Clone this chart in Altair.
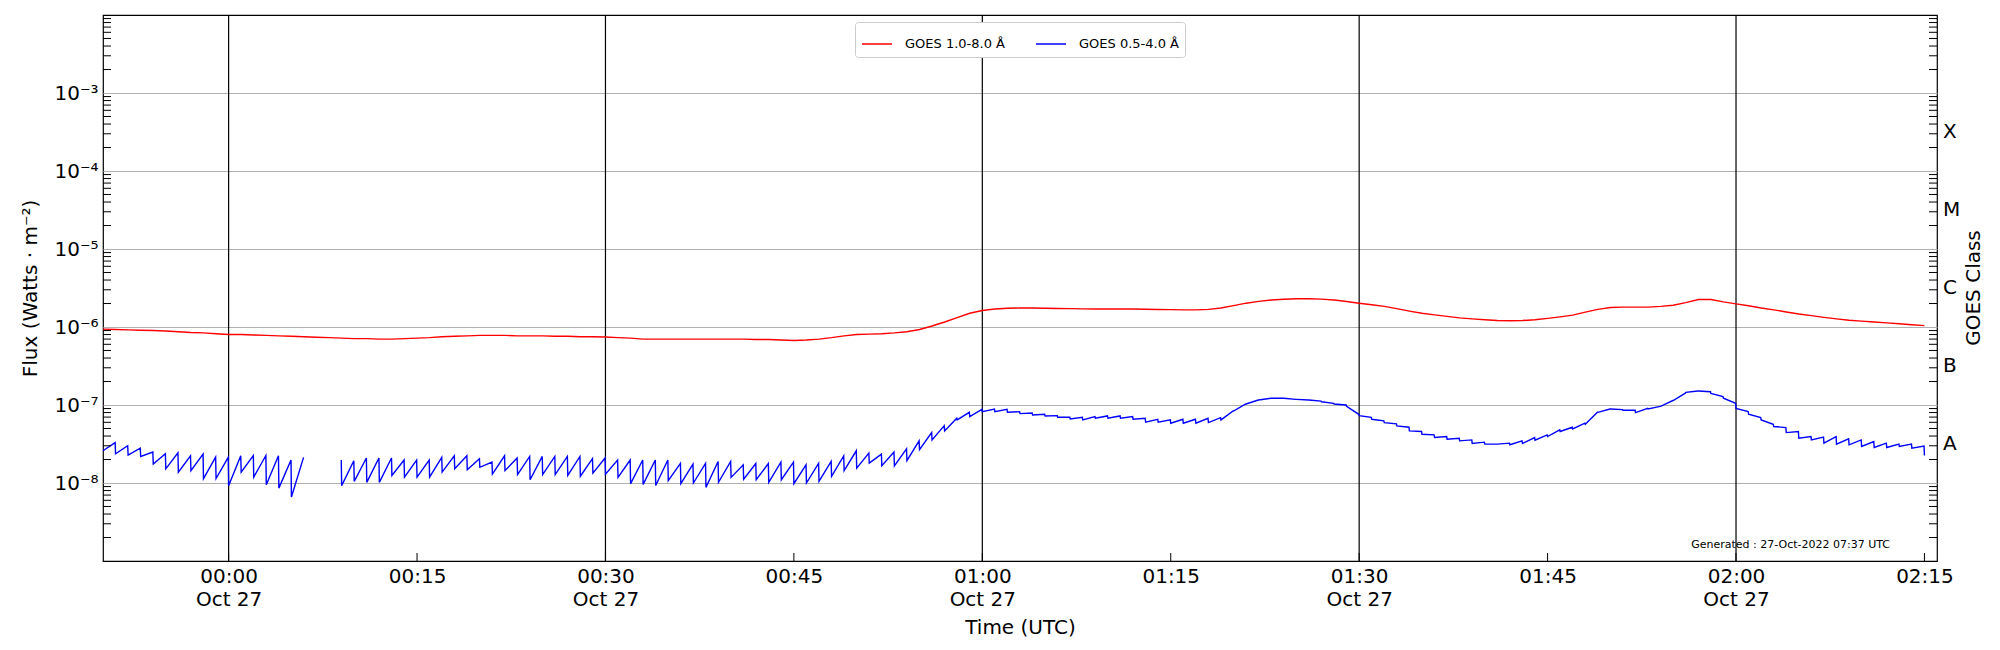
import json
import math
import altair as alt
import pandas as pd

# ---------------- data ----------------
START = "2022-10-26T23:50:00Z"          # first sample, one slot per minute
X_DOMAIN = ["2022-10-26T23:50:00Z", "2022-10-27T02:16:00Z"]

SERIES = ["GOES 1.0-8.0 Å", "GOES 0.5-4.0 Å"]
SERIES_COLORS = ["#ff0000", "#0000ff"]

# GOES 1.0-8.0 Å flux, one value per minute from 23:50 UTC (units of 1e-6 W m^-2)
red_flux_e6 = [
    0.94, 0.93, 0.92, 0.91, 0.90, 0.89, 0.87, 0.85, 0.84, 0.82,
    0.80, 0.80, 0.79, 0.78, 0.77, 0.76, 0.75, 0.74, 0.73, 0.72,
    0.71, 0.71, 0.70, 0.70, 0.71, 0.72, 0.73, 0.75, 0.76, 0.77,
    0.78, 0.78, 0.78, 0.77, 0.77, 0.77, 0.76, 0.76, 0.75, 0.75,
    0.745, 0.73, 0.72, 0.70, 0.70, 0.70, 0.70, 0.70, 0.70, 0.70,
    0.70, 0.70, 0.69, 0.69, 0.68, 0.67, 0.68, 0.70, 0.73, 0.77,
    0.80, 0.81, 0.82, 0.84, 0.87, 0.93, 1.03, 1.16, 1.32, 1.50,
    1.63, 1.70, 1.74, 1.75, 1.75, 1.74, 1.73, 1.72, 1.71, 1.70,
    1.70, 1.70, 1.70, 1.69, 1.68, 1.67, 1.66, 1.66, 1.68, 1.75,
    1.88, 2.02, 2.13, 2.22, 2.27, 2.30, 2.30, 2.28, 2.22, 2.12,
    2.02, 1.93, 1.84, 1.72, 1.60, 1.50, 1.43, 1.37, 1.31, 1.27,
    1.24, 1.21, 1.20, 1.21, 1.24, 1.29, 1.35, 1.42, 1.55, 1.68,
    1.78, 1.80, 1.80, 1.80, 1.84, 1.90, 2.05, 2.25, 2.25, 2.10,
    1.98, 1.87, 1.75, 1.66, 1.56, 1.47, 1.40, 1.33, 1.27, 1.22,
    1.19, 1.16, 1.13, 1.10, 1.07, 1.04,
]

# GOES 0.5-4.0 Å flux at the start and at the end of each minute (units of 1e-8 W m^-2)
blue_start_e8 = [
    2.59, 2.37, 2.28, 2.19, 1.75, 1.52, 1.38, 1.44, 1.14, 1.14,
    0.925, 1.38, 1.19, 0.95, 0.86, 0.66, None, None, None, 0.925,
    1.05, 1.02, 1.02, 1.25, 1.19, 1.19, 1.19, 1.38, 1.52, 1.48,
    1.59, 1.30, 1.44, 1.28, 1.10, 1.28, 1.28, 1.25, 1.22, 1.34,
    1.30, 1.18, 0.98, 0.96, 0.93, 1.07, 0.98, 1.00, 0.88, 1.02,
    1.18, 1.12, 1.10, 1.02, 1.10, 0.98, 1.00, 1.05, 1.22, 1.44,
    1.55, 1.80, 1.66, 1.66, 1.93, 2.67, 3.57, 4.66, 6.44, 7.10,
    8.22, 8.22, 8.06, 7.75, 7.45, 7.24, 6.96, 6.63, 6.44, 6.76,
    6.76, 6.76, 6.56, 6.01, 6.01, 5.84, 5.84, 5.84, 5.95, 6.44,
    8.38, 10.3, 11.6, 12.2, 12.2, 11.8, 11.6, 11.0, 10.3, 9.6,
    7.31, 6.56, 5.95, 5.39, 4.66, 4.22, 3.83, 3.65, 3.47, 3.21,
    3.15, 3.15, 3.09, 3.21, 3.54, 3.94, 4.57, 4.94, 5.66, 8.06,
    8.89, 8.55, 7.98, 8.89, 9.6, 11.4, 14.5, 15.1, 14.1, 12.2,
    9.06, 7.60, 6.44, 5.29, 4.43, 3.75, 3.57, 3.24, 3.15, 3.09,
    2.94, 2.85, 2.85, 2.94, 2.80, 2.25,
]
blue_end_e8 = [
    3.30, 3.00, 2.80, 2.49, 2.37, 2.44, 2.23, 2.34, 2.15, 2.13,
    2.23, 2.25, 2.25, 2.23, 1.97, 2.13, None, None, 1.97, 1.93,
    2.09, 2.09, 2.09, 1.97, 1.97, 1.97, 2.13, 2.23, 2.23, 2.05,
    1.85, 2.23, 2.09, 2.19, 2.19, 2.19, 2.19, 2.19, 2.05, 2.09,
    1.97, 1.97, 1.97, 1.97, 1.97, 1.78, 1.75, 1.78, 1.89, 1.89,
    1.71, 1.78, 1.78, 1.85, 1.85, 1.71, 1.78, 1.89, 2.23, 2.59,
    2.42, 2.34, 2.49, 2.74, 3.47, 4.43, 5.44, 6.76, 8.06, 8.81,
    8.89, 8.81, 8.22, 7.91, 7.60, 7.31, 6.96, 6.96, 7.10, 7.24,
    7.24, 7.10, 6.76, 6.56, 6.44, 6.56, 6.56, 6.76, 6.89, 8.38,
    10.3, 11.6, 12.2, 12.2, 11.8, 11.6, 11.2, 10.5, 10.0, 7.60,
    6.96, 6.25, 5.72, 5.19, 4.57, 4.14, 3.94, 3.75, 3.57, 3.34,
    3.15, 3.24, 3.47, 3.83, 4.14, 4.80, 5.19, 5.84, 8.06, 8.89,
    8.72, 8.55, 9.06, 9.6, 11.4, 14.2, 15.1, 14.8, 12.8, 10.5,
    8.22, 6.89, 5.66, 5.14, 4.57, 3.94, 3.87, 3.94, 3.68, 3.57,
    3.40, 3.24, 3.15, 3.15, 2.97, None,
]
BLUE_GAP_AFTER = 15   # minutes 16-18 of the 0.5-4.0 Å channel are missing

# axis ticks / labels
y_tick_values = [1e-8, 1e-7, 1e-6, 1e-5, 1e-4, 1e-3]
y_tick_labels = ["10⁻⁸", "10⁻⁷", "10⁻⁶", "10⁻⁵", "10⁻⁴", "10⁻³"]
class_values = [10 ** -7.5, 10 ** -6.5, 10 ** -5.5, 10 ** -4.5, 10 ** -3.5]
class_labels = ["A", "B", "C", "M", "X"]
x_tick_times = ["2022-10-27T00:00:00Z", "2022-10-27T00:15:00Z", "2022-10-27T00:30:00Z",
                "2022-10-27T00:45:00Z", "2022-10-27T01:00:00Z", "2022-10-27T01:15:00Z",
                "2022-10-27T01:30:00Z", "2022-10-27T01:45:00Z", "2022-10-27T02:00:00Z",
                "2022-10-27T02:15:00Z"]
x_tick_labels = [["00:00", "Oct 27"], "00:15", ["00:30", "Oct 27"], "00:45",
                 ["01:00", "Oct 27"], "01:15", ["01:30", "Oct 27"], "01:45",
                 ["02:00", "Oct 27"], "02:15"]
x_major_times = [t for t, l in zip(x_tick_times, x_tick_labels) if isinstance(l, list)]
GENERATED = "Generated : 27-Oct-2022 07:37 UTC"

# ---------------- build tables ----------------
t0 = pd.Timestamp(START)
iso = lambda t: t.strftime("%Y-%m-%dT%H:%M:%SZ")
ms = lambda s: int(pd.Timestamp(s).timestamp() * 1000)

rows = []
for k, v in enumerate(red_flux_e6):
    rows.append({"t": iso(t0 + pd.Timedelta(minutes=k)), "flux": v * 1e-6,
                 "series": SERIES[0], "seg": "r"})
for k, (s, e) in enumerate(zip(blue_start_e8, blue_end_e8)):
    seg = "b1" if k <= BLUE_GAP_AFTER else "b2"
    tk = t0 + pd.Timedelta(minutes=k)
    if s is not None:
        rows.append({"t": iso(tk), "flux": s * 1e-8, "series": SERIES[1], "seg": seg})
    if e is not None:
        rows.append({"t": iso(tk + pd.Timedelta(seconds=58)), "flux": e * 1e-8,
                     "series": SERIES[1], "seg": seg})
lines_df = pd.DataFrame(rows)

minor_vals = [m * 10.0 ** p for p in range(-9, -2) for m in range(2, 10)]
minor_df = pd.DataFrame({"flux": minor_vals})
class_df = pd.DataFrame({"flux": class_values, "label": class_labels})
xtick_df = pd.DataFrame({"t": x_tick_times})
xmajor_df = pd.DataFrame({"t": x_major_times})

W, H = 1834, 546
FONT = "DejaVu Sans"

yscale = alt.Scale(type="log", domain=[1e-9, 1e-2], nice=False)
xscale = alt.Scale(type="utc", domain=[ms(d) for d in X_DOMAIN], nice=False)

ylabel_expr = ""
for v, lab in zip(y_tick_values, y_tick_labels):
    ylabel_expr += f"abs(log(datum.value)/LN10 - ({round(math.log10(v))})) < 0.01 ? '{lab}' : "
ylabel_expr += "''"

xlabel_expr = ""
for t, lab in zip(x_tick_times, x_tick_labels):
    xlabel_expr += f"time(datum.value) == {ms(t)} ? {json.dumps(lab, ensure_ascii=False)} : "
xlabel_expr += "''"

x_axis = alt.Axis(values=[ms(t) for t in x_tick_times], labelExpr=xlabel_expr,
                  grid=False, ticks=False, tickSize=0, domain=False,
                  labelPadding=5, labelFontSize=20, labelLineHeight=23,
                  labelOverlap=False, labelFlush=False, labelColor="black",
                  title="Time (UTC)", titleFontSize=20, titleFontWeight="normal",
                  titleColor="black", titleY=72, titleBaseline="alphabetic")
y_axis = alt.Axis(values=y_tick_values, labelExpr=ylabel_expr,
                  grid=True, gridColor="#b0b0b0", gridWidth=1,
                  ticks=False, tickSize=0, domain=False,
                  labelPadding=5, labelFontSize=20, labelColor="black",
                  labelOverlap=False, labelFlush=False,
                  title="Flux (Watts · m⁻²)", titleFontSize=20, titleFontWeight="normal",
                  titleColor="black", titleX=-67, titleY=H / 2, titleAngle=270,
                  titleBaseline="alphabetic", titleAlign="center")

X = lambda: alt.X("t:T", scale=xscale, axis=x_axis)
Y = lambda: alt.Y("flux:Q", scale=yscale, axis=y_axis)

major_rules = alt.Chart(xmajor_df).mark_rule(color="black", strokeWidth=1.2).encode(x=X())

lines = alt.Chart(lines_df).mark_line(strokeWidth=1.4).encode(
    x=X(),
    y=Y(),
    color=alt.Color("series:N",
                    scale=alt.Scale(domain=SERIES, range=SERIES_COLORS),
                    legend=alt.Legend(orient="none", legendX=752, legendY=7,
                                      direction="horizontal", title=None,
                                      symbolType="stroke", symbolSize=900,
                                      symbolStrokeWidth=1.5, labelFontSize=13,
                                      labelColor="black", labelOffset=12,
                                      columnPadding=28, padding=6,
                                      strokeColor="#cccccc", fillColor="white",
                                      cornerRadius=3)),
    detail="seg:N",
    order="t:T",
)

left_minor = alt.Chart(minor_df).mark_rule(color="black", strokeWidth=1).encode(
    y=Y(), x=alt.value(0), x2=alt.value(8))
right_minor = alt.Chart(minor_df).mark_rule(color="black", strokeWidth=1).encode(
    y=Y(), x=alt.value(W - 8), x2=alt.value(W))
bottom_ticks = alt.Chart(xtick_df).mark_rule(color="black", strokeWidth=1).encode(
    x=X(), y=alt.value(H - 8), y2=alt.value(H))

class_text = alt.Chart(class_df).mark_text(align="left", baseline="middle",
                                           fontSize=20, font=FONT, color="black").encode(
    y=Y(), x=alt.value(W + 6), text="label:N")

class_title = alt.Chart(pd.DataFrame({"txt": ["GOES Class"]})).mark_text(
    angle=270, align="center", baseline="alphabetic", fontSize=20, font=FONT,
    color="black").encode(x=alt.value(W + 43), y=alt.value(H / 2), text="txt:N")

gen_text = alt.Chart(pd.DataFrame({"txt": [GENERATED]})).mark_text(
    align="right", baseline="alphabetic", fontSize=11, font=FONT,
    color="black").encode(x=alt.value(1787), y=alt.value(533), text="txt:N")

chart = alt.layer(
    major_rules, lines, left_minor, right_minor, bottom_ticks,
    class_text, class_title, gen_text,
).properties(
    width=W, height=H,
    autosize=alt.AutoSizeParams(type="none"),
    padding={"left": 95, "top": 7, "right": 55, "bottom": 85},
    background="white",
).configure(font=FONT).configure_view(stroke="black", strokeWidth=1.2)

chart.save("out.html", embed_options={"renderer": "svg", "actions": False})
